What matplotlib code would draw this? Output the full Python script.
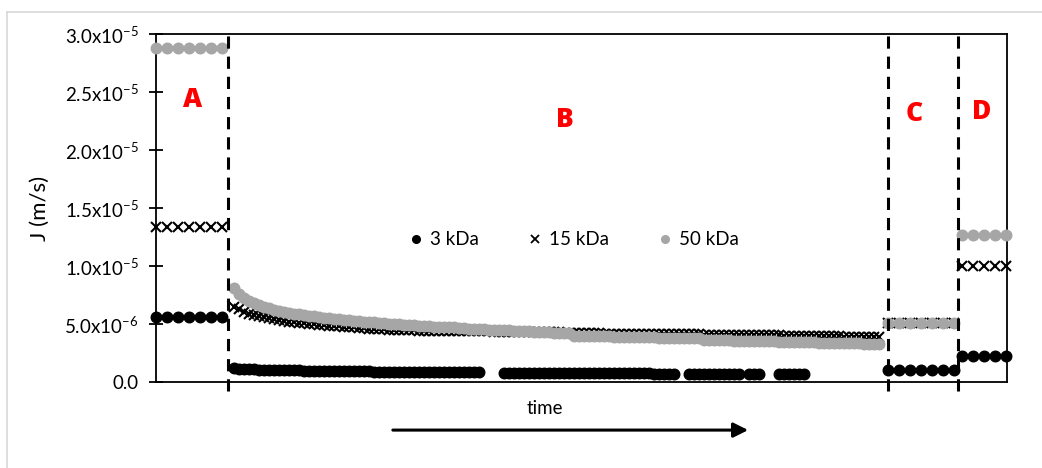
"""
    Permeate flux J for three membranes (3, 15 and 50 kDa) over the four stages A-D.
"""
########################################################################################################################
# Imports
########################################################################################################################

import matplotlib
matplotlib.use("Agg")
import matplotlib.pyplot as plt
import numpy as np
from matplotlib.lines import Line2D

########################################################################################################################
# Data (flux values in 1e-6 m/s)
########################################################################################################################

nan = np.nan

# Stage A: 7 samples
flux_3kda_a = [5.6, 5.6, 5.6, 5.6, 5.6, 5.6, 5.6]
flux_15kda_a = [13.4, 13.4, 13.4, 13.4, 13.4, 13.4, 13.4]
flux_50kda_a = [28.8, 28.8, 28.8, 28.8, 28.8, 28.8, 28.8]

# Stage B: 130 samples (missing samples as nan)
flux_3kda_b = [
    1.18, 1.14, 1.12, 1.10, 1.08, 1.07, 1.06, 1.05, 1.04, 1.03,
    1.02, 1.01, 1.00, 0.99, 0.98, 0.98, 0.97, 0.96, 0.96, 0.95,
    0.94, 0.94, 0.93, 0.93, 0.92, 0.92, 0.91, 0.91, 0.90, 0.90,
    0.89, 0.89, 0.88, 0.88, 0.87, 0.87, 0.86, 0.86, 0.86, 0.85,
    0.85, 0.84, 0.84, 0.84, 0.83, 0.83, 0.83, 0.82, 0.82, 0.82,
    nan, nan, nan, nan,
    0.80, 0.80, 0.80, 0.79, 0.79, 0.79, 0.79, 0.78, 0.78, 0.78,
    0.78, 0.77, 0.77, 0.77, 0.77, 0.76, 0.76, 0.76, 0.76, 0.76,
    0.75, 0.75, 0.75, 0.75, 0.75, 0.74, 0.74, 0.74, 0.74, 0.74,
    0.73, 0.73, 0.73, 0.73, 0.73,
    nan, nan,
    0.73, 0.72, 0.72, 0.72, 0.72, 0.71, 0.71, 0.71, 0.71, 0.71, 0.70,
    nan,
    0.70, 0.70, 0.70,
    nan, nan, nan,
    0.69, 0.69, 0.69, 0.68, 0.68, 0.68,
    nan, nan, nan, nan, nan, nan, nan, nan, nan, nan, nan, nan, nan, nan, nan,
]
flux_15kda_b = [
    6.50, 6.25, 6.05, 5.90, 5.78, 5.67, 5.57, 5.48, 5.40, 5.33,
    5.27, 5.21, 5.16, 5.11, 5.06, 5.01, 4.97, 4.93, 4.89, 4.85,
    4.82, 4.79, 4.76, 4.73, 4.70, 4.67, 4.64, 4.61, 4.58, 4.56,
    4.54, 4.52, 4.50, 4.48, 4.46, 4.45, 4.44, 4.43, 4.42, 4.42,
    4.41, 4.41, 4.40, 4.40, 4.39, 4.39, 4.38, 4.38, 4.37, 4.37,
    4.36, 4.36, 4.35, 4.35, 4.34, 4.34, 4.33, 4.33, 4.32, 4.32,
    4.31, 4.31, 4.30, 4.30, 4.28, 4.27, 4.25, 4.23, 4.20, 4.20,
    4.19, 4.19, 4.18, 4.18, 4.17, 4.17, 4.16, 4.16, 4.15, 4.15,
    4.14, 4.14, 4.13, 4.13, 4.12, 4.12, 4.12, 4.11, 4.11, 4.11,
    4.10, 4.10, 4.10, 4.10, 4.08, 4.08, 4.07, 4.07, 4.06, 4.06,
    4.05, 4.05, 4.04, 4.04, 4.03, 4.03, 4.02, 4.02, 4.01, 4.01,
    4.00, 3.99, 3.99, 3.98, 3.97, 3.97, 3.96, 3.95, 3.95, 3.94,
    3.93, 3.93, 3.92, 3.91, 3.90, 3.89, 3.88, 3.87, 3.86, 3.85,
]
flux_50kda_b = [
    8.10, 7.60, 7.25, 7.00, 6.80, 6.62, 6.48, 6.35, 6.24, 6.14,
    6.05, 5.97, 5.90, 5.83, 5.77, 5.71, 5.65, 5.60, 5.55, 5.50,
    5.45, 5.40, 5.35, 5.31, 5.27, 5.23, 5.19, 5.16, 5.13, 5.10,
    5.07, 5.04, 5.01, 4.98, 4.95, 4.92, 4.89, 4.86, 4.83, 4.80,
    4.78, 4.76, 4.74, 4.72, 4.70, 4.67, 4.64, 4.61, 4.58, 4.56,
    4.54, 4.52, 4.50, 4.48, 4.46, 4.44, 4.42, 4.40, 4.38, 4.36,
    4.34, 4.32, 4.30, 4.28, 4.26, 4.24, 4.22, 4.20, 4.00, 3.99,
    3.98, 3.97, 3.96, 3.95, 3.94, 3.93, 3.92, 3.91, 3.90, 3.89,
    3.88, 3.87, 3.86, 3.85, 3.84, 3.83, 3.82, 3.81, 3.80, 3.79,
    3.78, 3.77, 3.76, 3.75, 3.64, 3.62, 3.61, 3.60, 3.59, 3.58,
    3.57, 3.56, 3.55, 3.54, 3.53, 3.52, 3.51, 3.50, 3.49, 3.48,
    3.47, 3.46, 3.45, 3.44, 3.43, 3.42, 3.41, 3.40, 3.39, 3.38,
    3.37, 3.36, 3.35, 3.34, 3.33, 3.32, 3.31, 3.30, 3.29, 3.28,
]

# Stage C: 7 samples
flux_3kda_c = [1.0, 1.0, 1.0, 1.0, 1.0, 1.0, 1.0]
flux_15kda_c = [5.1, 5.1, 5.1, 5.1, 5.1, 5.1, 5.1]
flux_50kda_c = [5.1, 5.1, 5.1, 5.1, 5.1, 5.1, 5.1]

# Stage D: 5 samples
flux_3kda_d = [2.2, 2.2, 2.2, 2.2, 2.2]
flux_15kda_d = [10.0, 10.0, 10.0, 10.0, 10.0]
flux_50kda_d = [12.7, 12.7, 12.7, 12.7, 12.7]

series_labels = ["3 kDa", "15 kDa", "50 kDa"]
stage_labels = ["A", "B", "C", "D"]
y_tick_labels = ["0.0",
                 r"5.0x10$^{\mathregular{-6}}$",
                 r"1.0x10$^{\mathregular{-5}}$",
                 r"1.5x10$^{\mathregular{-5}}$",
                 r"2.0x10$^{\mathregular{-5}}$",
                 r"2.5x10$^{\mathregular{-5}}$",
                 r"3.0x10$^{\mathregular{-5}}$"]

########################################################################################################################
# Layout (time axis in arbitrary units)
########################################################################################################################

t_a = np.arange(7) * 11
t_b = 78 + np.arange(130) * 5
t_c = 732 + np.arange(7) * 11
t_d = 806 + np.arange(5) * 11
stage_bounds = [72, 732, 802]
stage_label_pos = [(37, 24.3e-6), (409, 22.6e-6), (758, 23.1e-6), (826, 23.3e-6)]

GREY = "#a6a6a6"


def stitch(a, b, c, d):
    """Joins the four stages into one series, in m/s."""
    return np.concatenate([a, b, c, d]).astype(float) * 1e-6


def main() -> int:
    plt.rcParams["font.family"] = ["Lato", "DejaVu Sans"]
    plt.rcParams["mathtext.fontset"] = "custom"
    plt.rcParams["mathtext.rm"] = "Lato"

    fig = plt.figure(figsize=(10.42, 4.68), dpi=100)
    ax = fig.add_axes([0.1497, 0.1838, 0.8167, 0.7436])

    t = np.concatenate([t_a, t_b, t_c, t_d])
    j3 = stitch(flux_3kda_a, flux_3kda_b, flux_3kda_c, flux_3kda_d)
    j15 = stitch(flux_15kda_a, flux_15kda_b, flux_15kda_c, flux_15kda_d)
    j50 = stitch(flux_50kda_a, flux_50kda_b, flux_50kda_c, flux_50kda_d)

    ax.plot(t, j3, ls="none", marker="o", ms=7.6, color="black", mec="black",
            clip_on=False, zorder=3)
    ax.plot(t, j15, ls="none", marker="x", ms=7.0, mew=1.5, color="black",
            clip_on=False, zorder=3)
    ax.plot(t, j50, ls="none", marker="o", ms=7.6, color=GREY, mec=GREY,
            clip_on=False, zorder=3)

    # stage boundaries
    for xb in stage_bounds:
        ax.axvline(xb, ymin=-0.025, ymax=1.0, color="black", lw=2.2,
                   dashes=(4, 2.6), clip_on=False, zorder=4)
    for lab, (xl, yl) in zip(stage_labels, stage_label_pos):
        ax.text(xl, yl, lab, color="red", fontsize=19, fontweight="heavy",
                family="Open Sans", ha="center", va="center")

    ax.set_xlim(0, 851)
    ax.set_ylim(0, 3.0e-5)
    ax.set_xticks([])
    ax.set_yticks(np.arange(7) * 5e-6)
    ax.set_yticklabels(y_tick_labels, fontsize=13.5)
    ax.tick_params(axis="y", direction="inout", length=9.5, width=1.3, pad=8)
    for sp in ax.spines.values():
        sp.set_linewidth(1.3)
    ax.set_ylabel("J (m/s)", fontsize=16, labelpad=10)

    handles = [
        Line2D([], [], ls="none", marker="o", ms=5.5, color="black"),
        Line2D([], [], ls="none", marker="x", ms=5.5, mew=1.3, color="black"),
        Line2D([], [], ls="none", marker="o", ms=5.5, color=GREY),
    ]
    ax.legend(handles, series_labels, ncol=3, loc="center",
              bbox_to_anchor=(0.492, 0.408), frameon=False, fontsize=13.5,
              handlelength=0.6, handletextpad=0.45, columnspacing=2.7)

    # time arrow under the axis
    fig.text(0.523, 0.128, "time", fontsize=13.5, ha="center", va="center")
    ax.annotate("", xy=(0.718, 0.081), xytext=(0.377, 0.081),
                xycoords="figure fraction", textcoords="figure fraction",
                arrowprops=dict(arrowstyle="-|>", lw=2.2, color="black",
                                mutation_scale=22, shrinkA=0, shrinkB=0))

    # light frame around the chart area
    fig.add_artist(Line2D([0.0067, 0.0067], [0.0, 0.9744], color="#d9d9d9", lw=1.2))
    fig.add_artist(Line2D([0.0067, 1.0], [0.9744, 0.9744], color="#d9d9d9", lw=1.2))

    fig.savefig("out.png", dpi=100)
    return 0


if __name__ == "__main__":
    exit(main())
